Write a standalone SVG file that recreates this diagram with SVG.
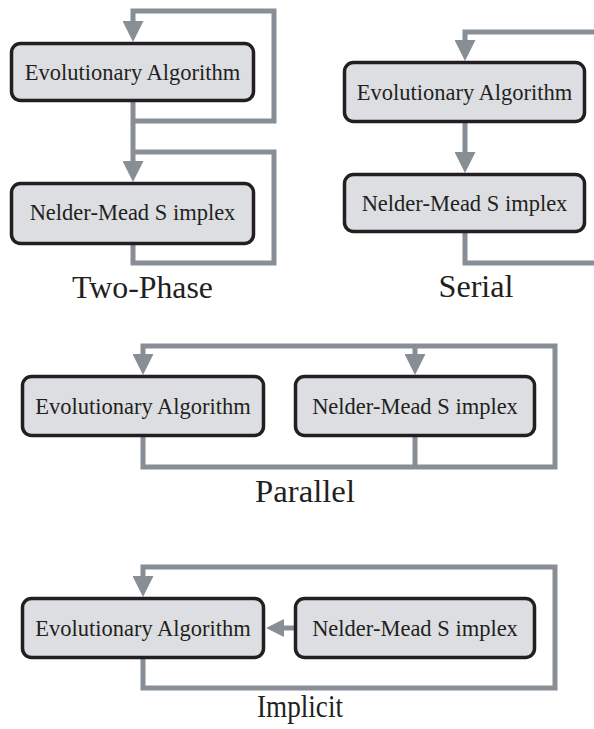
<svg xmlns="http://www.w3.org/2000/svg" width="594" height="729" viewBox="0 0 594 729">
<style>
.box{fill:#dcdee2;stroke:#231f20;stroke-width:3.5}
.bt{font-family:"Liberation Serif",serif;font-size:22.5px;fill:#231f20;text-anchor:middle}
.lab{font-family:"Liberation Serif",serif;font-size:31px;fill:#231f20;text-anchor:middle}
.ln{fill:none;stroke:#878e95;stroke-width:5;stroke-linejoin:miter;stroke-linecap:butt}
</style>
<defs>
<marker id="ah" markerUnits="userSpaceOnUse" markerWidth="21" markerHeight="21" refX="0" refY="10.5" orient="auto" viewBox="0 0 21 21">
<path d="M0,0 L21,10.5 L0,21 z" fill="#878e95"/>
</marker>
<marker id="ahs" markerUnits="userSpaceOnUse" markerWidth="18" markerHeight="18" refX="0" refY="9" orient="auto" viewBox="0 0 18 18">
<path d="M0,0 L18,9 L0,18 z" fill="#878e95"/>
</marker>
</defs>
<rect width="594" height="729" fill="#ffffff"/>
<g id="connectors">
<path class="ln" d="M133,121 H274 V11 H133 V21" marker-end="url(#ah)"/>
<path class="ln" d="M133,102 V161" marker-end="url(#ah)"/>
<path class="ln" d="M133,152 H274 V263 H133 V245"/>
<path class="ln" d="M594,32 H465 V40" marker-end="url(#ah)"/>
<path class="ln" d="M465,123 V152" marker-end="url(#ah)"/>
<path class="ln" d="M465,233 V263 H594"/>
<path class="ln" d="M143,437 V467 H555 V346 H143 V354" marker-end="url(#ah)"/>
<path class="ln" d="M415,346 V354" marker-end="url(#ah)"/>
<path class="ln" d="M415,437 V467"/>
<path class="ln" d="M143,659 V688 H555 V567 H143 V576" marker-end="url(#ah)"/>
<path class="ln" d="M294,628 H284" marker-end="url(#ahs)"/>
</g>
<g id="tp-ea"><rect class="box" x="11.5" y="43.5" width="242" height="57" rx="9"/><text class="bt" x="132.5" y="80">Evolutionary Algorithm</text></g>
<g id="tp-nm"><rect class="box" x="11.5" y="183.5" width="242" height="60" rx="9"/><text class="bt" x="132.5" y="220">Nelder-Mead S implex</text></g>
<g id="tp-label"><text class="lab" x="142.5" y="298" textLength="141" lengthAdjust="spacingAndGlyphs">Two-Phase</text></g>
<g id="se-ea"><rect class="box" x="344.5" y="62.5" width="240" height="59" rx="9"/><text class="bt" x="464.5" y="100">Evolutionary Algorithm</text></g>
<g id="se-nm"><rect class="box" x="344.5" y="174.5" width="240" height="57" rx="9"/><text class="bt" x="464.5" y="211">Nelder-Mead S implex</text></g>
<g id="se-label"><text class="lab" x="476" y="297" textLength="75" lengthAdjust="spacingAndGlyphs">Serial</text></g>
<g id="pa-ea"><rect class="box" x="22.5" y="376.5" width="241" height="59" rx="9"/><text class="bt" x="143" y="414">Evolutionary Algorithm</text></g>
<g id="pa-nm"><rect class="box" x="295.5" y="376.5" width="239" height="59" rx="9"/><text class="bt" x="415" y="414">Nelder-Mead S implex</text></g>
<g id="pa-label"><text class="lab" x="305" y="502" textLength="100" lengthAdjust="spacingAndGlyphs">Parallel</text></g>
<g id="im-ea"><rect class="box" x="22.5" y="598.5" width="241" height="59" rx="9"/><text class="bt" x="143" y="636">Evolutionary Algorithm</text></g>
<g id="im-nm"><rect class="box" x="295.5" y="598.5" width="239" height="59" rx="9"/><text class="bt" x="415" y="636">Nelder-Mead S implex</text></g>
<g id="im-label"><text class="lab" x="300" y="717" textLength="86" lengthAdjust="spacingAndGlyphs">Implicit</text></g>
</svg>
